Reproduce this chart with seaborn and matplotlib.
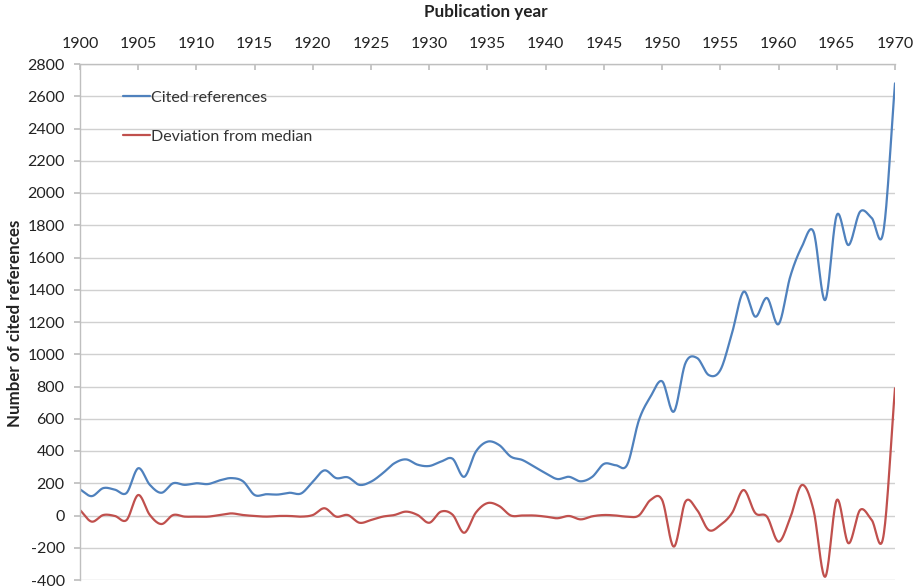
import numpy as np
import pandas as pd
import matplotlib
matplotlib.use("Agg")
import matplotlib.pyplot as plt
import seaborn as sns

## data
years = list(range(1900, 1971))
cited = [162, 120, 170, 160, 140, 293, 190, 141, 200, 190,
         200, 195, 218, 232, 212, 127, 132, 130, 141, 137,
         210, 280, 232, 237, 190, 210, 262, 324, 348, 315,
         307, 334, 352, 240, 396, 458, 437, 365, 344, 303,
         262, 226, 240, 212, 240, 320, 312, 315, 590, 737,
         832, 644, 945, 977, 871, 902, 1131, 1388, 1233, 1349,
         1187, 1481, 1667, 1760, 1336, 1863, 1677, 1884, 1845, 1760,
         2680]
deviation = [34, -38, 3, -3, -28, 127, 3, -53, 3, -7,
             -7, -7, 3, 13, 3, -3, -7, -3, -3, -7,
             3, 45, -7, 3, -45, -28, -7, 3, 24, 3,
             -45, 24, 5, -107, 18, 77, 59, 0, 0, 0,
             -7, -17, -3, -24, -5, 3, 0, -7, 0, 96,
             96, -193, 86, 34, -90, -59, 15, 158, 15, -7,
             -162, -15, 189, 34, -380, 96, -172, 34, -28, -131,
             789]
series_names = ["Cited references", "Deviation from median"]
series_colors = ["#4F81BD", "#C0504D"]
x_ticks = list(range(1900, 1971, 5))
y_ticks = list(range(-400, 2801, 200))


def smooth_line(x, y, n=20):
    ## excel-like smoothed line (catmull-rom through the data points)
    x = np.asarray(x, float)
    y = np.asarray(y, float)
    px = np.concatenate([[2 * x[0] - x[1]], x, [2 * x[-1] - x[-2]]])
    py = np.concatenate([[2 * y[0] - y[1]], y, [2 * y[-1] - y[-2]]])
    t = np.linspace(0, 1, n, endpoint=False)
    xs, ys = [], []
    for i in range(1, len(px) - 2):
        for p, out in ((px, xs), (py, ys)):
            p0, p1, p2, p3 = p[i - 1], p[i], p[i + 1], p[i + 2]
            out.extend(0.5 * (2 * p1 + (-p0 + p2) * t
                              + (2 * p0 - 5 * p1 + 4 * p2 - p3) * t ** 2
                              + (-p0 + 3 * p1 - 3 * p2 + p3) * t ** 3))
    xs.append(x[-1])
    ys.append(y[-1])
    return np.array(xs), np.array(ys)


frames = []
for name, vals in zip(series_names, [cited, deviation]):
    sx, sy = smooth_line(years, vals)
    frames.append(pd.DataFrame({"year": sx, "value": sy, "series": name}))
df = pd.concat(frames, ignore_index=True)

sns.set_theme(style="white")
plt.rcParams["font.family"] = ["Lato", "DejaVu Sans"]
plt.rcParams["axes.unicode_minus"] = False

fig = plt.figure(figsize=(9.2, 5.87), dpi=100)
ax = fig.add_axes([80 / 920, 1 - 580 / 587, 815 / 920, 516 / 587])

sns.lineplot(data=df, x="year", y="value", hue="series", palette=series_colors,
             linewidth=1.6, sort=False, estimator=None, ax=ax)

ax.set_xlim(1900, 1970)
ax.set_ylim(-400, 2800)
ax.set_xticks(x_ticks)
ax.set_yticks(y_ticks)
ax.xaxis.tick_top()
ax.xaxis.set_label_position("top")
ax.grid(axis="y", color="#D0D0D0", linewidth=1)
ax.grid(axis="x", visible=False)
for side in ["right", "bottom"]:
    ax.spines[side].set_visible(False)
for side in ["left", "top"]:
    ax.spines[side].set_color("#BFBFBF")
    ax.spines[side].set_linewidth(1)
ax.tick_params(axis="x", direction="in", length=4, color="#BFBFBF", pad=9,
               labelsize=11.5, labelcolor="#222222", top=True, bottom=False)
ax.tick_params(axis="y", direction="out", length=4, color="#BFBFBF", pad=7,
               labelsize=11.5, labelcolor="#222222", left=True)

ax.set_xlabel("Publication year", fontsize=12.3, fontweight="bold", color="#222222")
ax.set_ylabel("Number of cited references", fontsize=12.2, fontweight="bold", color="#222222")
ax.xaxis.set_label_coords((486 - 80) / 815, (580 - 17) / 516)
ax.yaxis.set_label_coords((23 - 80) / 815, (580 - 323) / 516)

ax.legend(loc="upper left", bbox_to_anchor=(0.035, 0.976), frameon=False,
          fontsize=11.5, handlelength=1.7, handletextpad=0.05, labelspacing=1.55,
          title=None, labelcolor="#333333")

fig.savefig("out.png", dpi=100)
plt.close()
